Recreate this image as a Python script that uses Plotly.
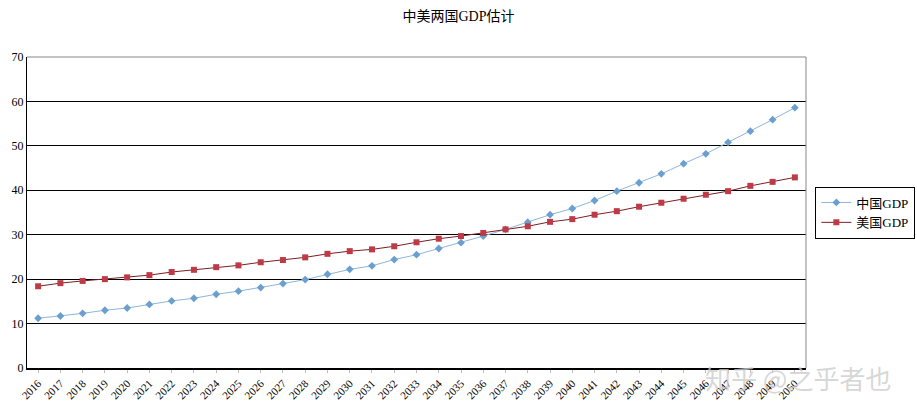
import plotly.graph_objects as go

years = [str(y) for y in range(2016, 2051)]
china_gdp = [11.2, 11.7, 12.3, 13.0, 13.5, 14.3, 15.1, 15.7, 16.6, 17.3,
             18.1, 19.0, 19.9, 21.1, 22.2, 23.0, 24.4, 25.5, 26.9, 28.2,
             29.7, 31.2, 32.8, 34.5, 35.9, 37.7, 39.8, 41.7, 43.7, 46.0,
             48.2, 50.8, 53.3, 55.9, 58.6]
us_gdp = [18.4, 19.1, 19.6, 20.0, 20.4, 20.9, 21.6, 22.1, 22.7, 23.1,
          23.8, 24.3, 24.9, 25.7, 26.3, 26.7, 27.4, 28.3, 29.1, 29.7,
          30.4, 31.2, 31.9, 32.9, 33.5, 34.5, 35.3, 36.3, 37.2, 38.1,
          39.0, 39.8, 41.0, 41.9, 42.9]

FONT = "Liberation Serif, Noto Sans CJK SC, serif"

fig = go.Figure()
fig.add_trace(go.Scatter(
    x=years, y=china_gdp, name="中国GDP", mode="lines+markers",
    line=dict(color="#8DB6DC", width=1),
    marker=dict(symbol="diamond", size=6, color="#6A9FCF"),
))
fig.add_trace(go.Scatter(
    x=years, y=us_gdp, name="美国GDP", mode="lines+markers",
    line=dict(color="#7A1F24", width=1),
    marker=dict(symbol="square", size=6, color="#BE3A46"),
))

fig.update_layout(
    width=917, height=414,
    margin=dict(l=27, r=111, t=57, b=46, autoexpand=False),
    paper_bgcolor="white", plot_bgcolor="white",
    font=dict(family=FONT, color="#000000", size=12),
    title=dict(text="中美两国GDP估计", x=0.5, xanchor="center", y=0.96, yanchor="middle",
               font=dict(family=FONT, size=14, color="#000000")),
    legend=dict(x=1.012, xanchor="left", y=0.5, yanchor="middle",
                bordercolor="#000000", borderwidth=1, bgcolor="white",
                font=dict(family=FONT, size=13), itemwidth=30, tracegroupgap=2),
    showlegend=True,
)
fig.update_xaxes(
    type="category", range=[-0.5, 34.5], showgrid=False,
    showline=True, linecolor="#000000", linewidth=1.5, mirror=False,
    ticks="outside", ticklen=3, tickcolor="#BBBBBB",
    tickangle=-45, tickfont=dict(family=FONT, size=11),
)
fig.update_yaxes(
    range=[0, 70], dtick=10, showgrid=True, gridcolor="#000000", gridwidth=1,
    showline=True, linecolor="#000000", linewidth=1, zeroline=False,
    tickfont=dict(family=FONT, size=12), ticks="",
)
# gray border on top and right of plot area
fig.add_shape(type="line", xref="paper", yref="paper", x0=0, x1=1, y0=1, y1=1,
              line=dict(color="#888888", width=1))
fig.add_shape(type="line", xref="paper", yref="paper", x0=1, x1=1, y0=0, y1=1,
              line=dict(color="#888888", width=1))
fig.add_annotation(text="知乎 @之乎者也", xref="paper", yref="paper",
                   x=1.112, y=-0.03, xanchor="right", yanchor="middle", showarrow=False,
                   font=dict(family="Noto Sans CJK SC", size=26, color="rgba(205,205,205,0.8)"))

fig.write_html("out.html")
